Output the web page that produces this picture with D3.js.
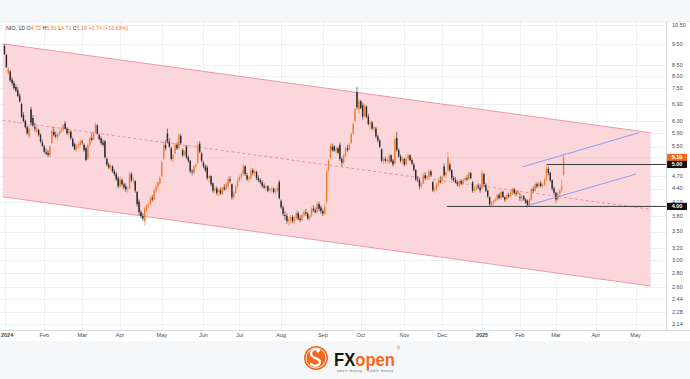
<!DOCTYPE html>
<html>
<head>
<meta charset="utf-8">
<script src="https://cdn.jsdelivr.net/npm/d3@7"></script>
<style>
  body { margin: 0; background: #fff; }
  svg { display: block; font-family: "Liberation Sans", Arial, sans-serif; }
</style>
</head>
<body>
<svg id="chart" width="690" height="379"></svg>
<script>
// daily NIO candles, [open, high, low, close], Jan 2 2024 .. Mar 7 2025
var candles = [
  // Jan 2024
  [9.40,9.48,8.95,9.00],[8.95,9.00,8.35,8.40],[8.15,8.40,8.05,8.30],[8.20,8.25,7.75,7.82],[7.85,7.95,7.60,7.70],
  [7.72,7.80,7.45,7.50],[7.55,7.65,7.35,7.40],[7.42,7.55,7.15,7.20],[7.22,7.30,6.95,7.00],[6.90,6.95,6.40,6.45],
  [6.50,6.60,6.25,6.30],[6.30,6.35,6.05,6.10],[6.10,6.15,5.85,5.90],[5.80,6.15,5.75,6.05],[6.70,6.80,6.15,6.25],
  [6.40,6.50,6.10,6.15],[6.10,6.25,5.95,6.05],[5.95,6.12,5.90,6.05],[6.00,6.05,5.80,5.85],[5.85,5.90,5.60,5.65],
  [5.62,5.70,5.48,5.52],
  // Feb
  [5.50,5.55,5.30,5.35],[5.35,5.45,5.25,5.30],[5.32,5.40,5.20,5.26],[5.25,5.55,5.20,5.50],[5.60,6.05,5.58,5.98],
  [5.95,6.10,5.80,5.85],[5.85,5.95,5.75,5.80],[5.80,5.90,5.70,5.88],[5.88,6.00,5.82,5.95],[5.95,6.10,5.90,6.02],
  [6.02,6.20,5.95,6.15],[6.22,6.30,6.02,6.05],[6.05,6.10,5.85,5.90],[5.90,6.05,5.80,5.98],[5.95,6.00,5.70,5.75],
  [5.72,5.78,5.48,5.52],[5.58,5.62,5.38,5.42],[5.42,5.55,5.35,5.50],[5.50,5.62,5.45,5.58],[5.55,5.70,5.50,5.65],
  // Mar
  [5.65,5.70,5.55,5.62],[5.55,5.60,5.35,5.40],[5.45,5.50,5.08,5.12],[5.15,5.60,5.12,5.55],[5.55,5.80,5.50,5.75],
  [5.75,5.90,5.65,5.70],[5.72,5.95,5.68,5.90],[5.92,6.25,5.88,6.18],[6.15,6.20,5.85,5.90],[5.85,5.90,5.68,5.72],
  [5.75,5.80,5.55,5.60],[5.62,5.70,5.50,5.55],[5.65,5.70,5.15,5.20],[5.15,5.20,4.95,5.00],[5.00,5.05,4.88,4.92],
  [4.92,5.00,4.85,4.95],[4.95,4.98,4.78,4.82],[4.82,4.88,4.70,4.75],[4.75,4.80,4.58,4.62],[4.65,4.70,4.40,4.45],
  // Apr
  [4.45,4.68,4.42,4.62],[4.60,4.65,4.45,4.50],[4.50,4.55,4.38,4.42],[4.45,4.52,4.32,4.38],[4.38,4.45,4.30,4.40],
  [4.40,4.82,4.38,4.75],[4.75,4.80,4.55,4.60],[4.60,4.68,4.50,4.62],[4.58,4.60,4.30,4.35],[4.32,4.35,4.00,4.05],
  [4.10,4.15,3.82,3.88],[3.88,3.92,3.75,3.80],[3.80,3.85,3.70,3.75],[3.70,4.00,3.61,3.96],[3.92,4.05,3.88,4.02],
  [4.02,4.10,3.95,4.05],[4.05,4.22,4.02,4.18],[4.18,4.25,4.10,4.15],[4.15,4.40,4.12,4.35],[4.35,4.50,4.30,4.45],
  [4.45,4.58,4.40,4.55],[4.52,4.70,4.48,4.65],
  // May
  [4.70,5.10,4.68,5.05],[5.15,5.65,5.12,5.55],[5.55,5.70,5.38,5.45],[5.90,6.05,5.60,5.65],[5.65,5.75,5.45,5.50],
  [5.45,5.50,5.10,5.15],[5.15,5.30,5.05,5.25],[5.30,5.60,5.28,5.55],[5.55,5.62,5.40,5.45],[5.45,5.92,5.42,5.85],
  [5.82,5.88,5.55,5.60],[5.40,5.45,5.20,5.25],[5.28,5.40,5.22,5.35],[5.50,5.55,5.15,5.20],[5.20,5.25,5.05,5.10],
  [5.10,5.12,4.78,4.82],[4.82,4.88,4.72,4.80],[4.78,4.98,4.75,4.95],[4.95,5.05,4.90,5.00],[5.05,5.65,5.02,5.55],
  [5.58,5.65,5.30,5.35],[5.30,5.35,5.05,5.10],
  // Jun
  [5.05,5.10,4.90,4.95],[4.95,5.00,4.80,4.85],[4.92,4.98,4.60,4.65],[4.65,4.75,4.55,4.70],[4.70,4.72,4.45,4.50],
  [4.52,4.55,4.30,4.35],[4.35,4.45,4.28,4.40],[4.40,4.45,4.25,4.30],[4.32,4.40,4.22,4.36],[4.36,4.42,4.25,4.28],
  [4.28,4.45,4.25,4.42],[4.42,4.50,4.35,4.38],[4.38,4.55,4.35,4.50],[4.45,4.68,4.40,4.62],[4.62,4.70,4.52,4.58],
  [4.50,4.52,4.15,4.20],[4.20,4.35,4.15,4.30],[4.30,4.50,4.28,4.45],[4.45,4.65,4.42,4.60],
  // Jul
  [4.60,4.72,4.55,4.68],[4.68,4.80,4.62,4.75],[4.75,5.02,4.72,4.95],[4.95,4.98,4.70,4.75],[4.72,4.78,4.58,4.62],
  [4.62,4.70,4.55,4.65],[4.65,4.92,4.62,4.85],[4.85,4.90,4.72,4.78],[4.78,4.88,4.70,4.82],[4.80,4.84,4.60,4.65],
  [4.65,4.72,4.55,4.60],[4.60,4.65,4.50,4.55],[4.55,4.60,4.42,4.46],[4.46,4.52,4.38,4.42],[4.42,4.48,4.35,4.45],
  [4.45,4.48,4.32,4.35],[4.35,4.42,4.30,4.38],[4.38,4.45,4.32,4.40],[4.40,4.42,4.28,4.32],[4.32,4.40,4.25,4.36],
  [4.36,4.48,4.30,4.42],[4.55,4.60,4.15,4.18],
  // Aug
  [4.12,4.15,3.95,3.98],[3.98,4.02,3.80,3.85],[3.82,3.90,3.72,3.80],[3.80,3.85,3.65,3.70],[3.70,3.78,3.62,3.72],
  [3.72,3.82,3.65,3.78],[3.78,3.82,3.66,3.70],[3.70,3.80,3.64,3.76],[3.76,3.90,3.72,3.86],[3.86,3.90,3.72,3.75],
  [3.75,3.82,3.68,3.72],[3.72,3.85,3.70,3.82],[3.82,3.92,3.78,3.88],[3.88,3.95,3.80,3.85],[3.85,3.88,3.72,3.75],
  [3.75,3.82,3.70,3.80],[3.80,3.98,3.78,3.95],[3.95,4.02,3.88,3.92],[3.92,3.98,3.85,3.88],[3.88,4.10,3.86,4.05],
  [4.05,4.10,3.90,3.95],[3.98,4.02,3.85,3.90],
  // Sep
  [3.90,3.95,3.80,3.85],[3.85,4.05,3.82,4.00],[4.10,4.88,4.05,4.82],[4.85,5.15,4.80,5.10],[5.20,5.60,5.15,5.52],
  [5.50,5.58,5.35,5.40],[5.50,5.55,5.35,5.38],[5.38,5.50,5.30,5.45],[5.45,5.50,5.28,5.32],[5.55,5.62,5.10,5.15],
  [5.15,5.20,4.95,5.05],[5.05,5.30,5.00,5.25],[5.25,5.50,5.20,5.45],[5.45,5.55,5.35,5.40],[5.40,5.60,5.38,5.55],
  [5.60,5.92,5.58,5.88],[5.90,6.25,5.85,6.20],[6.30,6.75,6.25,6.70],[7.35,7.55,6.70,6.78],[6.70,7.10,6.55,7.00],
  // Oct
  [7.00,7.05,6.70,6.75],[6.85,6.95,6.35,6.45],[6.45,6.90,6.40,6.80],[6.80,6.85,6.40,6.45],[6.45,6.55,6.15,6.20],
  [6.20,6.35,6.02,6.25],[6.25,6.30,6.00,6.05],[6.05,6.15,5.95,6.10],[6.05,6.10,5.75,5.80],[5.80,5.85,5.62,5.68],
  [5.68,5.72,5.45,5.50],[5.42,5.45,5.05,5.10],[5.10,5.20,5.00,5.15],[5.15,5.22,5.05,5.10],[5.10,5.18,5.02,5.12],
  [5.05,5.30,5.02,5.25],[5.25,5.28,5.05,5.08],[5.10,5.15,4.95,5.00],[5.02,5.80,5.00,5.72],[5.75,5.95,5.35,5.40],
  [5.40,5.45,5.18,5.22],[5.22,5.28,5.05,5.10],[5.10,5.20,5.00,5.15],
  // Nov
  [5.15,5.18,4.95,5.00],[5.00,5.20,4.98,5.15],[5.15,5.30,5.10,5.25],[5.25,5.28,5.08,5.12],[5.12,5.18,4.98,5.02],
  [5.00,5.05,4.82,4.86],[4.85,4.88,4.58,4.62],[4.62,4.70,4.55,4.60],[4.60,4.65,4.38,4.45],[4.45,4.55,4.40,4.50],
  [4.52,4.78,4.50,4.72],[4.72,4.80,4.60,4.65],[4.65,4.72,4.60,4.70],[4.68,4.88,4.65,4.82],[4.82,4.85,4.68,4.72],
  [4.55,4.58,4.32,4.36],[4.36,4.45,4.30,4.40],[4.40,4.55,4.35,4.50],[4.50,4.65,4.45,4.58],[4.58,4.70,4.52,4.55],
  // Dec
  [4.58,4.72,4.50,4.68],[4.95,5.02,4.68,4.72],[4.72,4.85,4.65,4.80],[4.85,5.35,4.82,5.20],[5.00,5.05,4.80,4.85],
  [4.85,4.88,4.60,4.65],[4.65,4.70,4.55,4.60],[4.60,4.68,4.52,4.55],[4.55,4.60,4.45,4.50],[4.45,4.62,4.42,4.58],
  [4.58,4.62,4.48,4.52],[4.52,4.65,4.48,4.60],[4.60,4.68,4.55,4.65],[4.65,4.72,4.58,4.62],[4.62,4.82,4.60,4.78],
  [4.78,4.80,4.62,4.65],[4.55,4.58,4.30,4.35],[4.35,4.45,4.30,4.40],[4.40,4.50,4.35,4.45],[4.45,4.52,4.38,4.42],
  [4.42,4.50,4.30,4.36],
  // Jan 2025
  [4.40,4.85,4.38,4.78],[4.75,4.78,4.45,4.50],[4.48,4.52,4.32,4.35],[4.35,4.38,4.18,4.22],[4.20,4.22,4.00,4.05],
  [4.02,4.12,3.98,4.08],[4.08,4.15,4.02,4.12],[4.12,4.20,4.08,4.15],[4.15,4.28,4.12,4.25],[4.25,4.30,4.15,4.18],
  [4.18,4.35,4.15,4.32],[4.32,4.35,4.18,4.20],[4.20,4.22,4.10,4.15],[4.15,4.28,4.12,4.25],[4.25,4.30,4.18,4.22],
  [4.22,4.35,4.20,4.30],[4.28,4.42,4.25,4.40],[4.38,4.42,4.25,4.30],[4.30,4.35,4.22,4.28],[4.28,4.38,4.25,4.35],
  // Feb 2025
  [4.20,4.30,4.12,4.18],[4.18,4.25,4.10,4.22],[4.22,4.25,4.12,4.15],[4.15,4.18,4.05,4.08],[4.12,4.15,3.98,4.02],
  [4.02,4.18,4.00,4.15],[4.15,4.42,4.12,4.38],[4.38,4.45,4.30,4.35],[4.35,4.55,4.32,4.50],[4.50,4.55,4.40,4.45],
  [4.45,4.55,4.42,4.52],[4.52,4.58,4.42,4.46],[4.46,4.52,4.40,4.48],[4.48,4.65,4.45,4.62],[4.62,5.02,4.58,4.90],
  [4.88,4.95,4.72,4.78],[4.78,4.82,4.55,4.60],[4.60,4.62,4.35,4.40],[4.40,4.45,4.25,4.30],
  // Mar 2025
  [4.30,4.32,4.08,4.15],[4.15,4.32,4.12,4.28],[4.28,4.38,4.22,4.35],[4.35,4.62,4.32,4.45],[4.72,5.31,4.71,5.19]
];

var firstDay = [2024, 0, 2],
    lastDay = [2025, 5, 30],
    holidays = ["2024-01-15","2024-02-19","2024-03-29","2024-05-27","2024-06-19","2024-07-04","2024-09-02",
                "2024-11-28","2024-12-25","2025-01-01","2025-01-09","2025-01-20","2025-02-17","2025-04-18",
                "2025-05-26"];

var priceTicks = [10.5, 9.5, 8.5, 8.0, 7.5, 6.9, 6.3, 5.9, 5.5, 4.7, 4.4, 4.1, 3.8, 3.5, 3.2, 3.0, 2.8, 2.6, 2.44, 2.28, 2.14];

// drawings: [bar index, price]
var channelTop = [[-1, 9.5], [341, 5.92]],
    channelBottom = [[-1, 4.21], [341, 2.62]],
    risingUpper = [[273.6, 4.94], [334.8, 5.92]],
    risingLower = [[273.6, 3.99], [333.2, 4.75]],
    levels = [{price: 5.00, from: 286.3}, {price: 4.00, from: 233.5}];

var lastPrice = 5.19,
    legend = {name: "NIO, 1D", o: "4.72", h: "5.31", l: "4.71", c: "5.19", chg: "+0.74 (+16.63%)"};

var W = 690, H = 379,
    plotL = 0, plotR = 666, plotT = 21, plotB = 330,
    upColor = "#f07d2c", downColor = "#262626", brand = "#f26b21";

var fmt = d3.utcFormat("%Y-%m-%d");
var holidaySet = new Set(holidays);
var days = d3.utcDay.range(new Date(Date.UTC(firstDay[0], firstDay[1], firstDay[2])),
                           new Date(Date.UTC(lastDay[0], lastDay[1], lastDay[2])))
  .filter(function(d) { return d.getUTCDay() % 6 !== 0 && !holidaySet.has(fmt(d)); });

var x = d3.scaleLinear().domain([0, 295]).range([4.5, 4.5 + 1.895 * 295]);
var y = d3.scaleLog().domain([2.14, 10.5]).range([324, 25]);

// month ticks at the first trading day of each month
var monthTicks = [];
days.forEach(function(d, i) {
  if (i === 0 || d.getUTCMonth() !== days[i - 1].getUTCMonth()) {
    if (x(i) < plotR - 10)
      monthTicks.push({i: i, label: d.getUTCMonth() === 0 ? String(d.getUTCFullYear()) : d3.utcFormat("%b")(d), year: d.getUTCMonth() === 0});
  }
});

var svg = d3.select("#chart");

svg.append("rect").attr("width", W).attr("height", H).attr("fill", "#fff");
svg.append("rect").attr("width", W).attr("height", plotT).attr("fill", "#f6f7f9");
svg.append("rect").attr("y", 341).attr("width", W).attr("height", H - 341).attr("fill", "#f6f7f9");

svg.append("defs").append("clipPath").attr("id", "plot")
  .append("rect").attr("x", plotL).attr("y", plotT).attr("width", plotR - plotL).attr("height", plotB - plotT);

// grid
var grid = svg.append("g").attr("stroke", "#eef0f3").attr("stroke-width", 1);
grid.selectAll("line.h").data(priceTicks).enter().append("line")
    .attr("x1", plotL).attr("x2", plotR)
    .attr("y1", function(d) { return Math.round(y(d)) + 0.5; })
    .attr("y2", function(d) { return Math.round(y(d)) + 0.5; });
grid.selectAll("line.v").data(monthTicks).enter().append("line")
    .attr("x1", function(d) { return Math.round(x(d.i)) + 0.5; })
    .attr("x2", function(d) { return Math.round(x(d.i)) + 0.5; })
    .attr("y1", plotT).attr("y2", plotB);

var plot = svg.append("g").attr("clip-path", "url(#plot)");

// descending channel
function logMid(a, b) { return Math.sqrt(a * b); }
var chan = [channelTop[0], channelTop[1], channelBottom[1], channelBottom[0]];
plot.append("path")
    .attr("d", d3.line().x(function(d) { return x(d[0]); }).y(function(d) { return y(d[1]); })(chan) + "Z")
    .attr("fill", "#fbd3d7").attr("fill-opacity", 0.9);
[channelTop, channelBottom].forEach(function(seg) {
  plot.append("line")
      .attr("x1", x(seg[0][0])).attr("y1", y(seg[0][1]))
      .attr("x2", x(seg[1][0])).attr("y2", y(seg[1][1]))
      .attr("stroke", "#ea9aa3").attr("stroke-width", 1);
});
plot.append("line")
    .attr("x1", x(channelTop[0][0])).attr("y1", y(logMid(channelTop[0][1], channelBottom[0][1])))
    .attr("x2", x(channelTop[1][0])).attr("y2", y(logMid(channelTop[1][1], channelBottom[1][1])))
    .attr("stroke", "#e67f8b").attr("stroke-width", 0.8).attr("stroke-dasharray", "3,2.5");

// last price line
plot.append("line")
    .attr("x1", plotL).attr("x2", plotR)
    .attr("y1", y(lastPrice)).attr("y2", y(lastPrice))
    .attr("stroke", upColor).attr("stroke-opacity", 0.35).attr("stroke-width", 0.8)
    .attr("stroke-dasharray", "1,1.5");

// candles
var bars = plot.append("g").selectAll("g").data(candles).enter().append("g")
    .attr("fill", function(d) { return d[3] >= d[0] ? upColor : downColor; })
    .attr("stroke", function(d) { return d[3] >= d[0] ? upColor : downColor; });
bars.append("line")
    .attr("x1", function(d, i) { return x(i); }).attr("x2", function(d, i) { return x(i); })
    .attr("y1", function(d) { return y(d[1]); }).attr("y2", function(d) { return y(d[2]); })
    .attr("stroke-width", 0.6);
bars.append("rect")
    .attr("stroke", "none")
    .attr("x", function(d, i) { return x(i) - 0.7; })
    .attr("width", 1.4)
    .attr("y", function(d) { return y(Math.max(d[0], d[3])); })
    .attr("height", function(d) { return Math.max(0.8, Math.abs(y(d[0]) - y(d[3]))); });

// rising channel
[risingUpper, risingLower].forEach(function(seg) {
  plot.append("line")
      .attr("x1", x(seg[0][0])).attr("y1", y(seg[0][1]))
      .attr("x2", x(seg[1][0])).attr("y2", y(seg[1][1]))
      .attr("stroke", "#8f9bf2").attr("stroke-width", 1);
});

// horizontal levels
plot.selectAll("line.level").data(levels).enter().append("line")
    .attr("x1", function(d) { return x(d.from); }).attr("x2", plotR)
    .attr("y1", function(d) { return y(d.price); }).attr("y2", function(d) { return y(d.price); })
    .attr("stroke", "#3a3a3a").attr("stroke-width", 1);

// frame
svg.append("line").attr("x1", plotR + 0.5).attr("x2", plotR + 0.5).attr("y1", plotT).attr("y2", plotB)
    .attr("stroke", "#d9dbe0");
svg.append("line").attr("x1", 0).attr("x2", W).attr("y1", plotB + 0.5).attr("y2", plotB + 0.5)
    .attr("stroke", "#d9dbe0");
svg.append("line").attr("x1", 0).attr("x2", W).attr("y1", plotT + 0.5).attr("y2", plotT + 0.5)
    .attr("stroke", "#eceef1");

// price axis
svg.append("g").selectAll("text").data(priceTicks).enter().append("text")
    .attr("x", 672).attr("y", function(d) { return y(d); }).attr("dy", "0.35em")
    .attr("font-size", 5.5).attr("fill", "#4a4a4a")
    .text(function(d) { return d.toFixed(2); });

var tags = [{price: lastPrice, color: brand}].concat(levels.map(function(l) { return {price: l.price, color: "#111"}; }));
var tag = svg.append("g").selectAll("g").data(tags).enter().append("g")
    .attr("transform", function(d) { return "translate(667," + y(d.price) + ")"; });
tag.append("rect").attr("x", 0).attr("y", -3.6).attr("width", 20).attr("height", 7.2)
    .attr("fill", function(d) { return d.color; });
tag.append("text").attr("x", 10).attr("dy", "0.35em").attr("text-anchor", "middle")
    .attr("font-size", 5.5).attr("font-weight", "bold").attr("fill", "#fff")
    .text(function(d) { return d.price.toFixed(2); });

// time axis
svg.append("g").selectAll("text").data(monthTicks).enter().append("text")
    .attr("x", function(d) { return x(d.i) < 12 ? 1 : x(d.i); }).attr("y", 335).attr("dy", "0.35em")
    .attr("text-anchor", function(d) { return x(d.i) < 12 ? "start" : "middle"; })
    .attr("font-size", 5.5)
    .attr("font-weight", function(d) { return d.year ? "bold" : "normal"; })
    .attr("fill", "#4a4a4a")
    .text(function(d) { return d.label; });

// legend
var lg = svg.append("text").attr("x", 6).attr("y", 28).attr("dy", "0.35em").attr("font-size", 5.3).attr("fill", "#333");
lg.append("tspan").text(legend.name + " ");
[["O", legend.o], ["H", legend.h], ["L", legend.l], ["C", legend.c]].forEach(function(p) {
  lg.append("tspan").text(p[0]);
  lg.append("tspan").attr("fill", upColor).text(p[1] + " ");
});
lg.append("tspan").attr("fill", upColor).text(legend.chg);

// FXOpen logo
var logo = svg.append("g");
logo.append("circle").attr("cx", 316).attr("cy", 358).attr("r", 12).attr("fill", brand);
logo.append("circle").attr("cx", 316).attr("cy", 358).attr("r", 10).attr("fill", "none")
    .attr("stroke", "#fff").attr("stroke-width", 0.8);
logo.append("path")
    .attr("d", "M319,350 C313,348 309,352 312,356 C314,359 320,358 320,362 C320,366 314,367 311,364")
    .attr("fill", "none").attr("stroke", "#fff").attr("stroke-width", 2.2).attr("stroke-linecap", "round");
logo.append("circle").attr("cx", 318).attr("cy", 351).attr("r", 1.6).attr("fill", "#fff");
var brandText = logo.append("text").attr("x", 334).attr("y", 366)
    .attr("font-size", 18).attr("font-weight", "bold").attr("textLength", 61).attr("lengthAdjust", "spacingAndGlyphs");
brandText.append("tspan").attr("fill", "#151515").text("FX");
brandText.append("tspan").attr("fill", brand).text("open");
logo.append("text").attr("x", 397).attr("y", 350).attr("font-size", 4.5).attr("fill", brand).text("®");
logo.append("text").attr("x", 337).attr("y", 372).attr("font-size", 3.2).attr("fill", "#666")
    .attr("textLength", 56).text("smart money  ·  stable money");
</script>
</body>
</html>
